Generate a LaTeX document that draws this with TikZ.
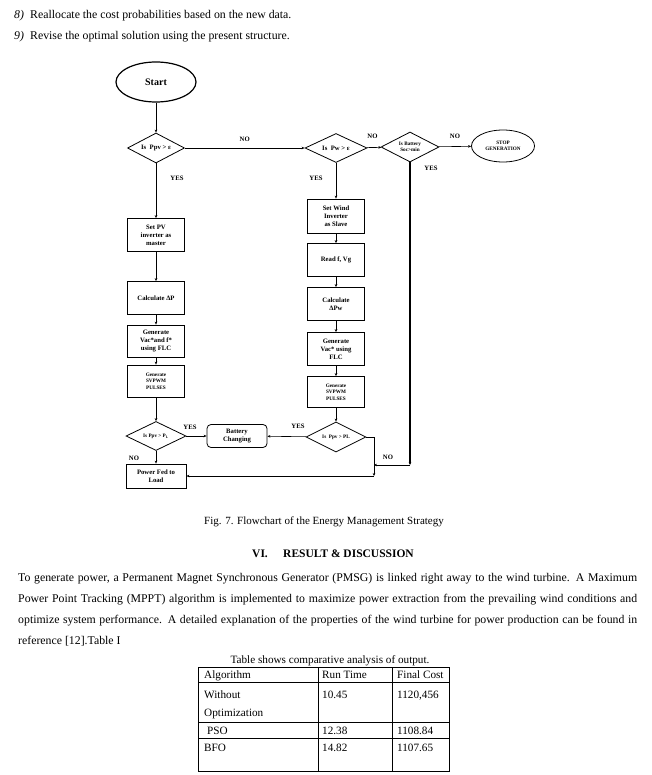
\documentclass[tikz,border=0pt]{standalone}
\usepackage{fontspec}
\setmainfont{Liberation Serif}
\usetikzlibrary{shapes.geometric, arrows.meta}
\newcommand{\flowfont}{\bfseries\fontsize{6.7}{7.9}\selectfont}
\newcommand{\tinyflow}{\bfseries\fontsize{5.2}{6.6}\selectfont}
\newcommand{\bodyfont}{\fontsize{11.8}{13}\selectfont}
\newcommand{\cellfont}{\fontsize{11.2}{13}\selectfont}

\begin{document}
\begin{tikzpicture}[x = 1pt, y = -1pt,
	box/.style = {draw, thick, minimum width = 57pt, minimum height = 33pt, inner sep = 1pt, align = center, font = \flowfont},
	test/.style = {draw, thick, diamond, aspect = 2, minimum width = 60pt, minimum height = 30pt, inner sep = 0pt, align = center, font = \flowfont},
	flow/.style = {-{Stealth[length = 3pt, width = 2.6pt]}, semithick},
	tag/.style = {font = \flowfont},
	body/.style = {anchor = base west, inner sep = 0pt, font = \bodyfont},
	cell/.style = {anchor = base west, inner sep = 0pt, font = \cellfont}]
	\useasboundingbox (0, 0) rectangle (651, 775);

	% list items above the figure
	\node[body, font = \bodyfont\itshape] (num8) at (14, 19) {8)};
	\node[body] (item8) at (30, 19) {Reallocate the cost probabilities based on the new data.};
	\node[body, font = \bodyfont\itshape] (num9) at (14, 40) {9)};
	\node[body] (item9) at (30, 40) {Revise the optimal solution using the present structure.};

	% flowchart, top row
	\node[draw, very thick, ellipse, minimum width = 80pt, minimum height = 40pt, font = \bfseries\fontsize{10}{12}\selectfont] (start) at (156, 82) {Start};
	\node[test, minimum width = 57pt] (isppv) at (156, 148) {Is~~Ppv > ε};
	\node[test, minimum width = 62pt, minimum height = 29pt] (ispw) at (336, 148) {Is~~Pw > ε};
	\node[test, minimum width = 58pt, font = \tinyflow] (isbat) at (410, 147) {Is Battery\\Soc>min};
	\node[draw, thick, ellipse, minimum width = 63pt, minimum height = 32pt, inner sep = 0pt, align = center, font = \tinyflow] (stop) at (503, 146) {STOP\\GENERATION};

	% PV column
	\node[box] (setpv) at (156, 235) {Set PV\\inverter as\\master};
	\node[box] (calcp) at (156, 298) {Calculate ΔP};
	\node[box, minimum height = 32pt] (genpv) at (156, 341) {Generate\\Vac*and f*\\using FLC};
	\node[box, minimum height = 32pt, font = \tinyflow] (svpv) at (156, 381) {Generate\\SVPWM\\PULSES};
	\node[test, minimum height = 29pt, font = \tinyflow] (ispl) at (156, 436) {Is Ppv > P\textsubscript{L}};
	\node[box, minimum width = 60pt, minimum height = 24pt] (power) at (156, 476) {Power Fed to\\Load};

	% wind column
	\node[box, minimum height = 34pt] (setw) at (336, 216) {Set Wind\\Inverter\\as Slave};
	\node[box] (readf) at (336, 260) {Read f, Vg};
	\node[box] (calcw) at (336, 304) {Calculate\\ΔPw};
	\node[box] (genw) at (336, 349) {Generate\\Vac* using\\FLC};
	\node[box, minimum height = 31pt, font = \tinyflow] (svw) at (336, 392) {Generate\\SVPWM\\PULSES};
	\node[test, font = \tinyflow] (ispl2) at (336, 437) {Is~~Ppv > PL};

	\node[draw, thick, rounded corners = 4pt, minimum width = 60pt, minimum height = 23pt, inner sep = 0pt, align = center, font = \flowfont] (batt) at (237, 436) {Battery\\Changing};

	\coordinate (batend) at (410, 465);
	\coordinate (nojoint) at (374, 465);
	\coordinate (nocorner) at (374, 476);

	% connectors
	\draw[flow] (start) -- (isppv);
	\draw[flow] (isppv) -- (ispw) node[tag, midway, above = 3pt]{NO};
	\draw[flow] (ispw) -- (isbat) node[tag, pos = 0.4, above = 5pt]{NO};
	\draw[flow] (isbat) -- (stop) node[tag, midway, above = 4pt]{NO};
	\draw[flow] (isppv) -- (setpv);
	\draw[flow] (setpv) -- (calcp);
	\draw[flow] (calcp) -- (genpv);
	\draw[flow] (genpv) -- (svpv);
	\draw[flow] (svpv) -- (ispl);
	\draw[flow] (ispl) -- (power);
	\draw[flow] (ispl) -- (batt);
	\draw[flow] (ispw) -- (setw);
	\draw[flow] (setw) -- (readf);
	\draw[flow] (readf) -- (calcw);
	\draw[flow] (calcw) -- (genw);
	\draw[flow] (genw) -- (svw);
	\draw[flow] (svw) -- (ispl2);
	\draw[flow] (ispl2) -- (batt);
	\draw[flow] (ispl2.east) -| (nocorner);
	\draw[flow] (nocorner) -- (power);
	\draw[flow, line width = 1.3pt] (isbat) -- (batend);
	\draw[flow] (batend) -- (nojoint);

	\node[tag] (yespv) at (177, 178) {YES};
	\node[tag] (yesw) at (316, 178) {YES};
	\node[tag] (yesbat) at (431, 168) {YES};
	\node[tag] (yesl) at (190, 427) {YES};
	\node[tag] (yesl2) at (298, 426) {YES};
	\node[tag] (nol) at (134, 458) {NO};
	\node[tag] (nol2) at (388, 457) {NO};

	% caption and section
	\node[body, anchor = base, font = \fontsize{11}{13}\selectfont] (caption) at (324, 524) {Fig. 7. Flowchart of the Energy Management Strategy};
	\node[body, font = \fontsize{11.5}{13}\selectfont\bfseries] (secnum) at (252, 557) {VI.};
	\node[body, font = \fontsize{11.5}{13}\selectfont\bfseries] (sectitle) at (283, 557) {RESULT \& DISCUSSION};

	% paragraph
	\node[body] (line1) at (18, 581) {\makebox[619pt][s]{To generate power, a Permanent Magnet Synchronous Generator (PMSG) is linked right away to the wind turbine. A Maximum}};
	\node[body] (line2) at (18, 602) {\makebox[619pt][s]{Power Point Tracking (MPPT) algorithm is implemented to maximize power extraction from the prevailing wind conditions and}};
	\node[body] (line3) at (18, 623) {\makebox[619pt][s]{optimize system performance. A detailed explanation of the properties of the wind turbine for power production can be found in}};
	\node[body] (line4) at (18, 644) {reference [12].Table I};

	% table
	\node[cell, anchor = base] (tabcap) at (330, 663) {Table shows comparative analysis of output.};
	\draw (198, 667) rectangle (449, 771);
	\draw (318, 667) -- (318, 771);
	\draw (392, 667) -- (392, 771);
	\foreach \y in {682, 722, 738}
		\draw (198, \y) -- (449, \y);
	\node[cell] (algo) at (204, 678) {Algorithm};
	\node[cell] (runt) at (322, 678) {Run Time};
	\node[cell] (cost) at (397, 678) {Final Cost};
	\node[cell] (without) at (204, 698) {Without};
	\node[cell] (optim) at (204, 716) {Optimization};
	\node[cell] (run1) at (322, 698) {10.45};
	\node[cell] (cost1) at (397, 698) {1120,456};
	\node[cell] (pso) at (207, 734) {PSO};
	\node[cell] (run2) at (322, 734) {12.38};
	\node[cell] (cost2) at (397, 734) {1108.84};
	\node[cell] (bfo) at (204, 751) {BFO};
	\node[cell] (run3) at (322, 751) {14.82};
	\node[cell] (cost3) at (397, 751) {1107.65};
\end{tikzpicture}
\end{document}
